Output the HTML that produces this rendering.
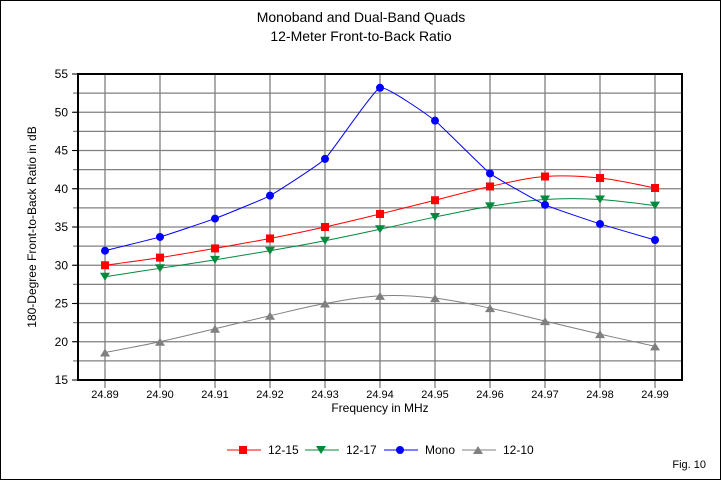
<!DOCTYPE html>
<html><head><meta charset="utf-8"><style>
html,body{margin:0;padding:0;background:#fff}
svg{display:block;font-family:"Liberation Sans",Arial,sans-serif}
</style></head><body>
<svg id="c" width="722" height="481" viewBox="0 0 722 481" xmlns="http://www.w3.org/2000/svg">
<rect x="0.5" y="0.5" width="720" height="479" fill="#fff" stroke="#000"/>
<text x="361" y="22" font-size="14" text-anchor="middle">Monoband and Dual-Band Quads</text>
<text x="361" y="41" font-size="14" text-anchor="middle">12-Meter Front-to-Back Ratio</text>
<g id="grid"></g>
<rect x="78" y="74" width="604" height="306" fill="none" stroke="#000" stroke-width="2"/>
<g id="series"></g>
<text x="380" y="412" font-size="12" text-anchor="middle">Frequency in MHz</text>
<text transform="translate(36,227) rotate(-90)" font-size="12" text-anchor="middle">180-Degree Front-to-Back Ratio in dB</text>
<g id="legend" font-size="12"></g>
<text x="706" y="468" font-size="11" text-anchor="end">Fig. 10</text>
</svg>
<script>
var NS="http://www.w3.org/2000/svg";
function el(p,t,a,txt){var e=document.createElementNS(NS,t);for(var k in a)e.setAttribute(k,a[k]);if(txt!==undefined)e.textContent=txt;p.appendChild(e);return e;}
var g=document.getElementById('grid'),s=document.getElementById('series'),L=document.getElementById('legend');
function X(i){return 105+55*i;}function Y(v){return 380-(v-15)*7.65;}
for(var v=17.5;v<55;v+=2.5){el(g,'line',{x1:73,x2:682,y1:Y(v),y2:Y(v),stroke:'#808080','stroke-width':1.3});}
for(var v=15;v<=55;v+=5){el(g,'line',{x1:72,x2:78,y1:Y(v),y2:Y(v),stroke:'#000'});el(g,'text',{x:68,y:Y(v)+4,'font-size':12,'text-anchor':'end'},String(v));}
for(var i=0;i<11;i++){el(g,'line',{x1:X(i),x2:X(i),y1:74,y2:388,stroke:'#808080','stroke-width':1.3});el(g,'text',{x:X(i),y:398,'font-size':11,'text-anchor':'middle'},(24.89+i*0.01).toFixed(2));}
var D=[
['12-15','#ff0000','sq',[30.0,31.0,32.2,33.5,35.0,36.7,38.5,40.3,41.6,41.4,40.1],1],
['12-17','#008a3c','dn',[28.5,29.6,30.7,31.9,33.2,34.7,36.3,37.7,38.6,38.6,37.8],1],
['Mono','#0000ff','ci',[31.9,33.7,36.1,39.1,43.9,53.2,48.9,42.0,37.9,35.4,33.3],0.35],
['12-10','#808080','up',[18.6,20.0,21.7,23.4,25.0,26.0,25.7,24.4,22.7,21.0,19.4],1]];
function mk(p,t,x,y,c){
 if(t=='sq')el(p,'rect',{x:x-4,y:y-4,width:8,height:8,fill:c});
 else if(t=='ci')el(p,'circle',{cx:x,cy:y,r:4,fill:c});
 else if(t=='dn')el(p,'polygon',{points:(x-5)+','+(y-4)+' '+(x+5)+','+(y-4)+' '+x+','+(y+4),fill:c});
 else el(p,'polygon',{points:(x-5)+','+(y+4)+' '+(x+5)+','+(y+4)+' '+x+','+(y-4),fill:c});}
var lx=[[227,268],[305,346],[384,425],[462,503]];
D.forEach(function(d,k){
 var pts=d[3].map(function(v,i){return [X(i),Y(v)];});
 var t=d[4]/6;
 var path='M'+pts[0];
 for(var i=0;i<pts.length-1;i++){var p0=pts[Math.max(0,i-1)],p1=pts[i],p2=pts[i+1],p3=pts[Math.min(pts.length-1,i+2)];
  var c1=[p1[0]+(p2[0]-p0[0])*t,p1[1]+(p2[1]-p0[1])*t],c2=[p2[0]-(p3[0]-p1[0])*t,p2[1]-(p3[1]-p1[1])*t];
  path+=' C'+c1+' '+c2+' '+p2;}
 el(s,'path',{d:path,fill:'none',stroke:d[1],'stroke-width':1});
 pts.forEach(function(p){mk(s,d[2],p[0],p[1],d[1]);});
 var a=lx[k];el(L,'line',{x1:a[0],x2:a[0]+34,y1:450,y2:450,stroke:d[1]});mk(L,d[2],a[0]+16,450,d[1]);
 el(L,'text',{x:a[1],y:454},d[0]);
});
</script>
</body></html>
